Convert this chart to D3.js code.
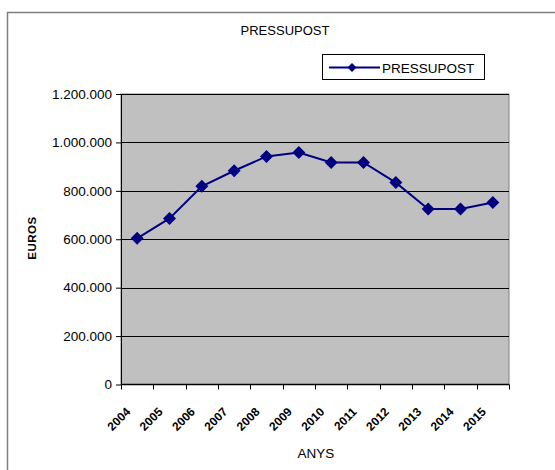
<!DOCTYPE html>
<html><head><meta charset="utf-8">
<script src="https://cdn.jsdelivr.net/npm/d3@7"></script>
<style>body{margin:0;background:#fff}svg{display:block;font-family:Arial,"Liberation Sans",sans-serif}</style>
</head><body>
<script>
const categories = ["2004","2005","2006","2007","2008","2009","2010","2011","2012","2013","2014","2015"];
const values = [604000,686000,819000,883000,942000,958000,917000,917000,834000,725000,725000,752000];
const yTicks = [0,200000,400000,600000,800000,1000000,1200000];
const seriesName = "PRESSUPOST";

const W=555,H=470;
const svg=d3.select("body").append("svg").attr("width",W).attr("height",H);
svg.append("rect").attr("x",7.5).attr("y",12.5).attr("width",W).attr("height",H).attr("fill","#fff").attr("stroke","#808080").attr("stroke-width",1.5);

const L=121,R=509,T=94,B=384.5;
const x=d3.scaleBand().domain(categories).range([L,R]);
const y=d3.scaleLinear().domain([0,1200000]).range([B,T]);

svg.append("rect").attr("x",L).attr("y",T).attr("width",R-L).attr("height",B-T).attr("fill","#c0c0c0").attr("stroke","#808080").attr("stroke-width",1);

svg.append("g").selectAll("line").data(yTicks.filter(d=>d>0)).join("line")
  .attr("x1",L).attr("x2",R).attr("y1",d=>Math.round(y(d))+0.5).attr("y2",d=>Math.round(y(d))+0.5)
  .attr("stroke","#000").attr("stroke-width",1);

const fmt=d=>d3.format(",")(d).replace(/,/g,".");
const yAxis=svg.append("g").attr("transform",`translate(${L},0)`)
  .call(d3.axisLeft(y).tickValues(yTicks).tickFormat(fmt).tickSize(5).tickSizeOuter(0));
yAxis.select(".domain").attr("stroke","#000");
yAxis.selectAll("text").attr("font-size","13.5px").attr("fill","#000").attr("font-family","Arial,'Liberation Sans',sans-serif").attr("x",-9);

const xg=svg.append("g");
xg.append("line").attr("x1",L).attr("x2",R).attr("y1",B).attr("y2",B).attr("stroke","#000").attr("stroke-width",1.5);
const bounds=categories.map(c=>x(c)).concat([R]);
xg.selectAll("line.t").data(bounds).join("line").attr("class","t")
  .attr("x1",d=>Math.round(d)+0.5).attr("x2",d=>Math.round(d)+0.5).attr("y1",B).attr("y2",B+5).attr("stroke","#000");
xg.selectAll("text").data(categories).join("text")
  .attr("transform",d=>`translate(${x(d)+x.bandwidth()/2-6},${B+28}) rotate(-45)`)
  .attr("text-anchor","end").attr("font-size","12px").attr("font-weight","bold").attr("fill","#000").text(d=>d);

const line=d3.line().x((d,i)=>x(categories[i])+x.bandwidth()/2).y(d=>y(d));
svg.append("path").datum(values).attr("d",line).attr("fill","none").attr("stroke","#000080").attr("stroke-width",2);
const diamond=d3.symbol().type(d3.symbolSquare).size(84);
svg.append("g").selectAll("path").data(values).join("path")
  .attr("transform",(d,i)=>`translate(${x(categories[i])+x.bandwidth()/2},${y(d)}) rotate(45)`)
  .attr("d",diamond).attr("fill","#000080");

svg.append("text").attr("x",285).attr("y",35).attr("text-anchor","middle").attr("font-size","13px").text("PRESSUPOST");
svg.append("text").attr("x",316).attr("y",458).attr("text-anchor","middle").attr("font-size","13.5px").text("ANYS");
svg.append("text").attr("transform","translate(36,238) rotate(-90)").attr("text-anchor","middle").attr("font-size","11.5px").attr("font-weight","bold").attr("letter-spacing","0.5px").text("EUROS");

const lg=svg.append("g");
lg.append("rect").attr("x",322.5).attr("y",54.5).attr("width",162).attr("height",25).attr("fill","#fff").attr("stroke","#000");
lg.append("line").attr("x1",329).attr("x2",380).attr("y1",67.5).attr("y2",67.5).attr("stroke","#000080").attr("stroke-width",2);
lg.append("path").attr("transform","translate(352,67.5) rotate(45)").attr("d",d3.symbol().type(d3.symbolSquare).size(40)()).attr("fill","#000080");
lg.append("text").attr("x",382).attr("y",72.5).attr("font-size","13.5px").text(seriesName);
</script>
</body></html>
